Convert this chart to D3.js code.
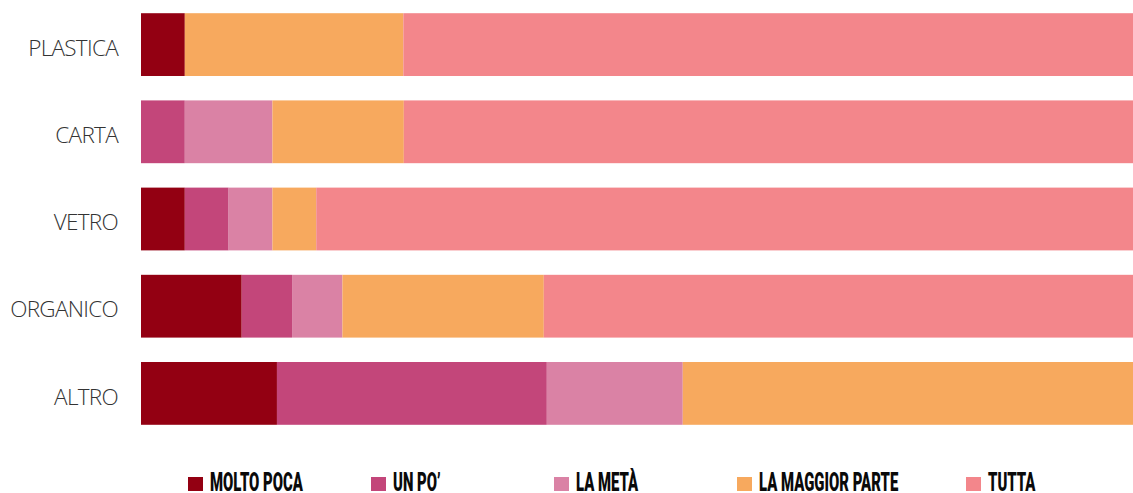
<!DOCTYPE html>
<html>
<head>
<meta charset="utf-8">
<script src="https://cdn.jsdelivr.net/npm/d3@7"></script>
<style>
  html, body { margin: 0; padding: 0; background: #fff; overflow: hidden; }
  svg { display: block; }
</style>
</head>
<body>
<svg id="chart" width="1133" height="493"></svg>
<script>
// Categories of waste and share (%) of respondents for each answer
const categories = ["PLASTICA", "CARTA", "VETRO", "ORGANICO", "ALTRO"];
const answers = ["MOLTO POCA", "UN PO’", "LA METÀ", "LA MAGGIOR PARTE", "TUTTA"];
const molto_poca = [4.35, 0, 4.35, 10, 13.5];
const un_po = [0, 4.35, 4.35, 5, 26.8];
const la_meta = [0, 8.7, 4.35, 5, 13.5];
const maggior_parte = [21.7, 13.05, 4.35, 20, 46.2];
const tutta = [73.9, 73.9, 82.6, 60, 0];
const colors = ["#930012", "#c3467a", "#da82a5", "#f7a95e", "#f3868b"];

const seriesValues = [molto_poca, un_po, la_meta, maggior_parte, tutta];
const rows = categories.map((c, i) => {
  const r = { cat: c };
  answers.forEach((a, j) => { r[a] = seriesValues[j][i]; });
  return r;
});

const svg = d3.select("#chart");
const x = d3.scaleLinear().domain([0, 100]).range([141, 1148]);
const y = d3.scaleBand().domain(categories).range([1, 437]).paddingInner(0.28).paddingOuter(0.14);

const stacked = d3.stack().keys(answers)(rows);

svg.append("g").selectAll("g")
  .data(stacked)
  .join("g")
  .attr("fill", (d, i) => colors[i])
  .selectAll("rect")
  .data(d => d)
  .join("rect")
  .attr("x", d => x(d[0]))
  .attr("y", d => y(d.data.cat))
  .attr("width", d => x(d[1]) - x(d[0]))
  .attr("height", y.bandwidth());

// Category labels
const yAxis = d3.axisLeft(y).tickSize(0).tickPadding(23);
const ag = svg.append("g").attr("transform", "translate(141,4)").call(yAxis);
ag.select(".domain").remove();
ag.selectAll("text")
  .attr("font-family", "'Open Sans', sans-serif")
  .attr("font-weight", 300)
  .attr("font-size", 22.5)
  .attr("letter-spacing", -0.7)
  .attr("fill", "#333");

// Legend
const legendX = d3.scaleOrdinal().domain(answers).range([188, 371, 554, 737, 966]);
const lg = svg.append("g").selectAll("g")
  .data(answers)
  .join("g")
  .attr("transform", d => `translate(${legendX(d)},477)`);
lg.append("rect")
  .attr("width", 15).attr("height", 14)
  .attr("fill", (d, i) => colors[i]);
lg.append("text")
  .attr("x", 22)
  .attr("y", 14)
  .attr("font-family", "Roboto, sans-serif")
  .attr("font-weight", 900)
  .attr("font-size", 25)
  .attr("fill", "#0a0a0a")
  .text(d => d)
  .each(function () {
    // condensed look: squeeze glyphs horizontally
    const len = this.getComputedTextLength();
    d3.select(this).attr("textLength", len * 0.595).attr("lengthAdjust", "spacingAndGlyphs");
  });
</script>
</body>
</html>
